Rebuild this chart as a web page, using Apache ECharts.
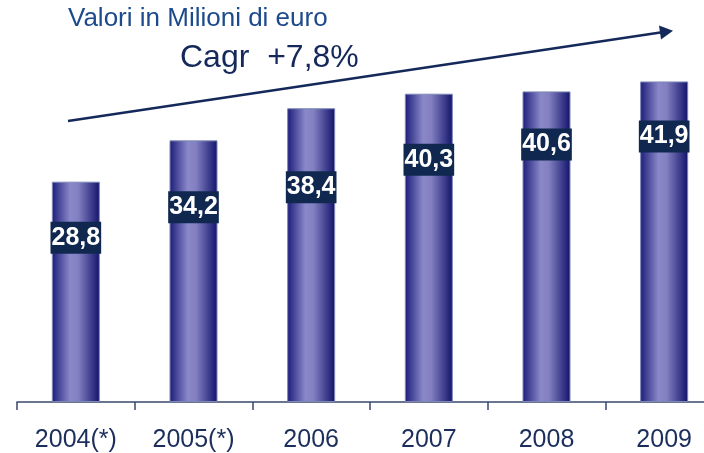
<!DOCTYPE html>
<html>
<head>
	<meta charset="utf-8">
	<title>Valori in Milioni di euro</title>
	<script type="text/javascript" src="https://cdn.jsdelivr.net/npm/echarts@6/dist/echarts.min.js"></script>
	<style type="text/css">
		html, body { margin: 0; padding: 0; background: #fff; }
		#chart { width: 704px; height: 453px; }
	</style>
</head>
<body>
	<div id="chart"></div>
<script type="text/javascript">
	// dati
	var years = ['2004(*)', '2005(*)', '2006', '2007', '2008', '2009'];
	var values = [28.8, 34.2, 38.4, 40.3, 40.6, 41.9];
	var titleText = 'Valori in Milioni di euro';
	var cagrText = 'Cagr  +7,8%';

	// posizione verticale delle etichette dentro la barra (px dalla cima)
	var labelDy = [56, 67, 79, 66, 53, 55];

	var navy = '#14285a';
	var chart = echarts.init(document.getElementById('chart'));

	var barColor = new echarts.graphic.LinearGradient(0, 0, 1, 0, [
		{ offset: 0, color: '#1c1c7a' },
		{ offset: 0.38, color: '#8a88c8' },
		{ offset: 0.55, color: '#8280c0' },
		{ offset: 1, color: '#12126c' }
	]);

	var option = {
		animation: false,
		grid: { left: 17, width: 706, top: 19.5, bottom: 51, outerBoundsMode: 'none', containLabel: false },
		xAxis: {
			type: 'category',
			data: years,
			axisLine: { show: true, lineStyle: { color: '#3a4a6e', width: 1.5 } },
			axisTick: { show: true, length: 8, interval: 0, lineStyle: { color: '#3a4a6e', width: 1.5 } },
			axisLabel: {
				color: '#1c2f5c',
				fontSize: 25,
				fontFamily: 'Liberation Sans, Arial, sans-serif',
				margin: 26
			}
		},
		yAxis: {
			type: 'value',
			min: 0,
			max: 50,
			show: false,
			splitLine: { show: false }
		},
		series: [{
			type: 'bar',
			barWidth: 48,
			data: values.map(function (v, i) {
				return {
					value: v,
					label: { position: ['50%', labelDy[i]] }
				};
			}),
			itemStyle: {
				color: barColor,
				borderColor: '#7d88b4',
				borderWidth: 1
			},
			label: {
				show: true,
				align: 'center',
				verticalAlign: 'middle',
				formatter: function (p) { return p.value.toFixed(1).replace('.', ','); },
				color: '#fff',
				fontSize: 25,
				fontWeight: 'bold',
				fontFamily: 'Liberation Sans, Arial, sans-serif',
				backgroundColor: '#10284f',
				padding: [2, 1, 2, 1],
				lineHeight: 28
			}
		}],
		graphic: [
			{
				type: 'text',
				left: 68,
				top: 6,
				style: {
					text: titleText,
					fill: '#1d4a8c',
					font: '26px "Liberation Sans", Arial, sans-serif'
				}
			},
			{
				type: 'text',
				left: 180,
				top: 42,
				style: {
					text: cagrText,
					fill: navy,
					font: '32px "Liberation Sans", Arial, sans-serif'
				}
			},
			{
				type: 'line',
				shape: { x1: 68, y1: 121, x2: 662, y2: 32.3 },
				style: { stroke: navy, lineWidth: 2.5 }
			},
			{
				type: 'polygon',
				shape: { points: [[673, 30.7], [659, 25.5], [661, 39.5]] },
				style: { fill: navy }
			}
		]
	};
	chart.setOption(option);
</script>
</body>
</html>
